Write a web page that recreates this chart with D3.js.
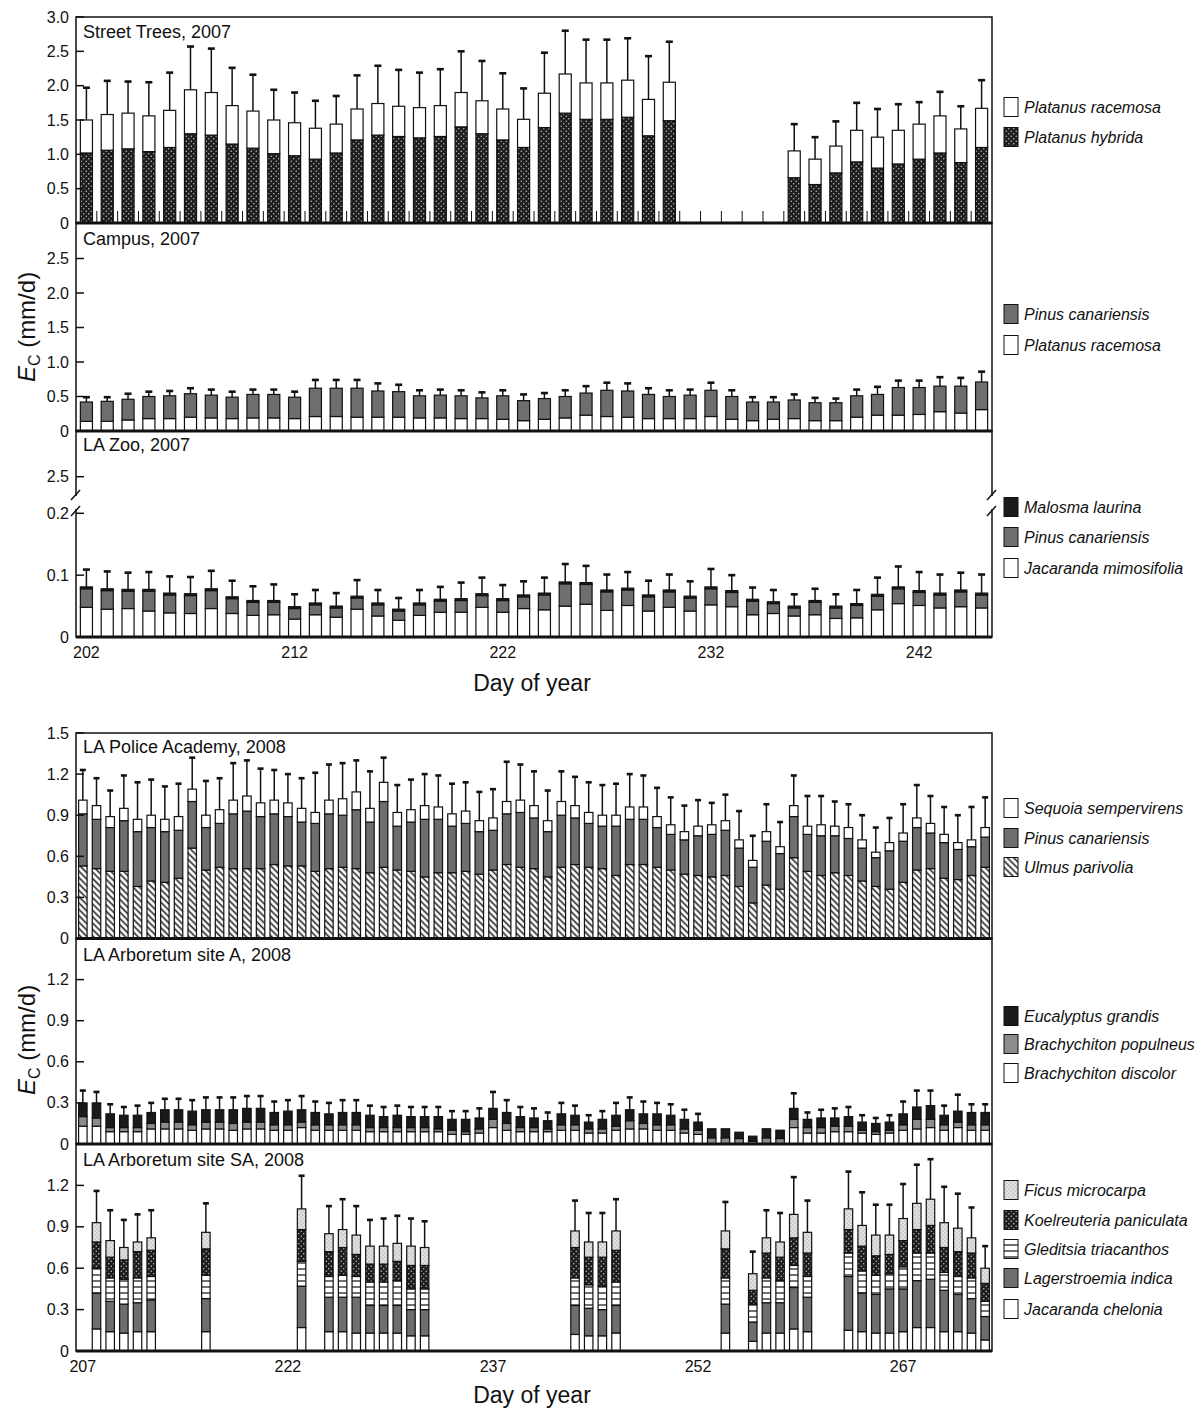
<!DOCTYPE html>
<html><head><meta charset="utf-8">
<script src="https://cdn.jsdelivr.net/npm/d3@7"></script>
<style>
body{margin:0;background:#fff}
svg{display:block}
text{font-family:"Liberation Sans",Arial,Helvetica,sans-serif;fill:#111}
</style>
</head><body>
<svg id="chart" width="1201" height="1411"></svg>
<script>
// ---------------- categories / ticks ----------------
const days2007 = d3.range(202, 246);
const days2008 = d3.range(207, 274);
const ticks2007 = [202, 212, 222, 232, 242];
const ticks2008 = [207, 222, 237, 252, 267];

// ---------------- Street Trees, 2007 ----------------
const stHybrida = [1.02,1.06,1.08,1.04,1.10,1.30,1.28,1.15,1.09,1.01, 0.98,0.93,1.02,1.21,1.28,1.26,1.24,1.26,1.40,1.30, 1.21,1.10,1.39,1.60,1.51,1.51,1.54,1.27,1.49, null,null,null,null,null, 0.66,0.56,0.73,0.89,0.80,0.86,0.93,1.02,0.88,1.10];
const stRacemosa = [0.48,0.52,0.52,0.52,0.54,0.64,0.62,0.56,0.54,0.49, 0.48,0.45,0.42,0.45,0.46,0.44,0.44,0.45,0.50,0.48, 0.45,0.41,0.50,0.57,0.53,0.53,0.54,0.53,0.56, null,null,null,null,null, 0.39,0.37,0.39,0.46,0.45,0.49,0.51,0.54,0.49,0.57];
const stSD = [0.47,0.49,0.46,0.49,0.55,0.63,0.64,0.55,0.53,0.44, 0.44,0.40,0.41,0.49,0.55,0.53,0.51,0.53,0.60,0.58, 0.52,0.45,0.59,0.63,0.63,0.63,0.61,0.63,0.59, null,null,null,null,null, 0.39,0.32,0.36,0.40,0.41,0.38,0.32,0.35,0.33,0.41];

// ---------------- Campus, 2007 ----------------
const caPlatanus = [.14,.14,.16,.18,.18,.20,.19,.18,.19,.19, .18,.21,.21,.20,.20,.20,.19,.19,.18,.18, .17,.15,.17,.19,.23,.21,.20,.18,.18,.18, .21,.17,.15,.17,.18,.15,.15,.20,.23,.23, .24,.28,.26,.31];
const caPinus = [.28,.29,.30,.32,.33,.34,.33,.31,.34,.34, .31,.41,.41,.42,.38,.37,.32,.33,.33,.30, .34,.29,.30,.31,.32,.38,.38,.35,.32,.34, .38,.33,.27,.25,.27,.26,.26,.31,.30,.40, .39,.37,.39,.40];
const caSD = [.07,.06,.08,.07,.07,.08,.08,.08,.07,.07, .08,.12,.12,.12,.11,.10,.08,.08,.08,.08, .08,.09,.08,.09,.10,.11,.11,.09,.09,.08, .11,.09,.07,.07,.08,.07,.06,.09,.11,.10, .10,.13,.12,.15];

// ---------------- LA Zoo, 2007 ----------------
const zoJacaranda = [.048,.045,.046,.042,.039,.038,.046,.038,.035,.036, .029,.036,.032,.045,.034,.027,.035,.040,.040,.048, .040,.046,.044,.050,.053,.043,.051,.042,.048,.042, .052,.049,.036,.038,.034,.036,.030,.031,.044,.054, .051,.047,.049,.047];
const zoPinus = [.030,.030,.028,.032,.029,.029,.029,.024,.021,.020, .017,.016,.015,.018,.018,.015,.017,.018,.019,.019, .019,.019,.024,.036,.032,.030,.025,.023,.025,.021, .026,.023,.022,.016,.013,.020,.017,.020,.022,.024, .021,.021,.024,.021];
const zoMalosma = [.003,.003,.003,.003,.003,.003,.003,.003,.003,.003, .003,.003,.003,.003,.003,.003,.003,.003,.003,.003, .003,.003,.003,.003,.003,.003,.003,.003,.003,.003, .003,.003,.003,.003,.003,.003,.003,.003,.003,.003, .003,.003,.003,.003];
const zoSD = [.028,.028,.027,.028,.027,.027,.029,.026,.023,.026, .020,.021,.021,.026,.021,.018,.021,.020,.026,.026, .022,.022,.025,.029,.027,.025,.026,.023,.025,.024, .029,.025,.019,.019,.019,.019,.019,.022,.027,.033, .030,.030,.028,.030];

// ---------------- LA Police Academy, 2008 ----------------
const poUlmus = [.53,.51,.49,.49,.38,.42,.41,.44,.66,.50, .52,.51,.51,.51,.54,.53,.53,.49,.51,.52, .51,.48,.52,.50,.49,.45,.48,.48,.49,.47, .50,.54,.52,.51,.45,.52,.54,.52,.51,.46, .54,.54,.52,.50,.47,.46,.45,.46,.38,.26, .39,.36,.59,.49,.46,.48,.46,.42,.38,.36, .41,.50,.51,.44,.43,.46,.52];
const poPinus = [.38,.36,.32,.37,.40,.39,.37,.35,.34,.31, .32,.40,.42,.38,.37,.36,.32,.35,.40,.38, .43,.37,.48,.32,.36,.42,.39,.34,.35,.31, .29,.37,.40,.37,.33,.38,.34,.32,.31,.36, .33,.33,.29,.26,.25,.29,.31,.33,.28,.26, .32,.26,.30,.27,.29,.27,.27,.24,.21,.28, .30,.31,.26,.26,.22,.21,.22];
const poSequoia = [.10,.10,.08,.09,.09,.09,.09,.10,.09,.09, .10,.10,.11,.10,.10,.10,.10,.08,.10,.12, .13,.10,.14,.10,.09,.10,.09,.09,.09,.08, .09,.09,.09,.09,.08,.10,.09,.08,.08,.08, .09,.09,.08,.07,.06,.07,.07,.07,.06,.05, .07,.05,.08,.06,.08,.07,.08,.06,.04,.06, .06,.07,.07,.06,.05,.05,.07];
const poSD = [.22,.20,.19,.24,.27,.26,.24,.24,.23,.25, .23,.27,.26,.25,.22,.21,.22,.29,.26,.26, .23,.27,.18,.20,.22,.23,.23,.22,.21,.21, .21,.29,.26,.25,.22,.22,.21,.22,.22,.23, .24,.23,.21,.20,.19,.19,.16,.19,.21,.18, .20,.18,.22,.22,.21,.18,.17,.18,.18,.18, .21,.24,.20,.20,.20,.24,.22];

// ---------------- LA Arboretum site A, 2008 ----------------
const aDiscolor = [.13,.13,.09,.09,.09,.11,.11,.11,.10,.11, .11,.10,.11,.11,.10,.10,.12,.10,.10,.10, .10,.09,.09,.09,.09,.09,.09,.07,.07,.08, .12,.10,.09,.09,.09,.10,.10,.08,.08,.10, .11,.11,.10,.10,.08,.07,0,0,0,0, 0,0,.12,.08,.08,.09,.09,.08,.07,.08, .10,.11,.12,.10,.12,.10,.10];
const aPopulneus = [.07,.06,.03,.03,.03,.04,.05,.05,.04,.05, .05,.05,.05,.05,.04,.04,.04,.04,.04,.04, .04,.03,.03,.03,.03,.03,.02,.03,.02,.03, .06,.05,.03,.03,.02,.04,.04,.03,.03,.03, .06,.04,.04,.04,.03,.03,.045,.045,.04,.02, .045,.04,.06,.04,.04,.04,.04,.02,.02,.02, .04,.07,.06,.04,.04,.04,.04];
const aEucalyptus = [.10,.11,.10,.09,.09,.08,.09,.09,.10,.09, .09,.10,.10,.10,.09,.10,.09,.09,.08,.09, .09,.09,.08,.09,.08,.08,.09,.08,.09,.08, .08,.08,.08,.07,.06,.08,.07,.05,.07,.08, .08,.07,.08,.07,.07,.06,.066,.066,.046,.037, .066,.061,.08,.06,.07,.06,.07,.06,.06,.06, .08,.09,.10,.07,.08,.09,.09];
const aSD = [.09,.08,.07,.06,.07,.07,.08,.08,.08,.09, .09,.09,.09,.09,.08,.08,.10,.08,.08,.09, .09,.07,.07,.07,.07,.07,.07,.06,.06,.07, .12,.09,.07,.07,.06,.08,.07,.05,.06,.09, .09,.09,.08,.08,.07,.06,null,null,null,null, null,null,.11,.05,.06,.07,.07,.05,.04,.05, .09,.12,.11,.07,.12,.06,.06];

// ---------------- LA Arboretum site SA, 2008 ----------------
const saDays = [208,209,210,211,212,216,223,225,226,227,228,229,230,231,232,243,244,245,246,254,256,257,258,259,260,263,264,265,266,267,268,269,270,271,272,273];
const saJacaranda = [.16,.14,.13,.14,.14,.14,.17,.14,.14,.13,.13,.13,.13,.11,.11,.12,.11,.11,.13,.13,.07,.13,.13,.16,.14,.15,.14,.13,.13,.14,.17,.17,.14,.14,.13,.08];
const saLagerstroemia = [.26,.22,.21,.21,.23,.24,.30,.25,.25,.26,.20,.20,.20,.19,.19,.21,.20,.19,.20,.21,.14,.22,.22,.30,.25,.39,.28,.28,.32,.31,.34,.35,.30,.27,.25,.17];
const saGleditsia = [.18,.17,.18,.18,.17,.17,.18,.15,.16,.15,.17,.17,.18,.15,.15,.20,.17,.17,.17,.19,.13,.18,.16,.16,.15,.17,.16,.14,.11,.16,.20,.19,.13,.13,.15,.11];
const saKoelreuteria = [.19,.15,.14,.19,.19,.19,.23,.18,.20,.16,.13,.13,.14,.17,.17,.22,.20,.21,.23,.21,.10,.18,.17,.20,.17,.17,.18,.14,.14,.19,.17,.20,.18,.18,.18,.13];
const saFicus = [.14,.12,.09,.07,.09,.12,.15,.13,.13,.14,.13,.13,.13,.14,.13,.12,.11,.11,.14,.13,.12,.11,.11,.17,.15,.15,.15,.15,.14,.16,.19,.19,.18,.17,.11,.11];
const saSD = [.23,.22,.20,.20,.20,.21,.24,.20,.22,.21,.19,.20,.20,.20,.19,.22,.21,.21,.23,.21,.16,.20,.21,.27,.23,.27,.24,.22,.22,.25,.28,.29,.26,.25,.22,.16];

// ================= drawing =================
const svg = d3.select("#chart");
svg.append("rect").attr("width",1201).attr("height",1411).attr("fill","#fff");
const X0 = 76, X1 = 992;
const INK = "#111";

const defs = svg.append("defs");
function dotPattern(id, bg, dot, size, r){
  const p = defs.append("pattern").attr("id",id).attr("patternUnits","userSpaceOnUse")
    .attr("width",size).attr("height",size);
  p.append("rect").attr("width",size).attr("height",size).attr("fill",bg);
  p.append("circle").attr("cx",size*0.25).attr("cy",size*0.25).attr("r",r).attr("fill",dot);
  p.append("circle").attr("cx",size*0.75).attr("cy",size*0.75).attr("r",r).attr("fill",dot);
}
dotPattern("darkDots","#1e1e1e","#cfcfcf",5,0.7);
dotPattern("lightDots","#e2e2e2","#8a8a8a",4,0.6);
{
  const h = defs.append("pattern").attr("id","hatch").attr("patternUnits","userSpaceOnUse")
    .attr("width",4.5).attr("height",4.5).attr("patternTransform","rotate(-45)");
  h.append("rect").attr("width",4.5).attr("height",4.5).attr("fill","#fff");
  h.append("line").attr("x1",2.25).attr("y1",0).attr("x2",2.25).attr("y2",4.5)
    .attr("stroke","#222").attr("stroke-width",1.6);
  const s = defs.append("pattern").attr("id","hstripes").attr("patternUnits","userSpaceOnUse")
    .attr("width",6).attr("height",6);
  s.append("rect").attr("width",6).attr("height",6).attr("fill","#fff");
  s.append("line").attr("x1",0).attr("y1",3).attr("x2",6).attr("y2",3)
    .attr("stroke","#222").attr("stroke-width",1.3);
}
const F = {
  white:"#ffffff", grey:"#6e6e6e", lightGrey:"#8c8c8c", black:"#1a1a1a",
  darkDots:"url(#darkDots)", lightDots:"url(#lightDots)", hatch:"url(#hatch)", hstripes:"url(#hstripes)"
};

const xTop = d3.scaleBand().domain(days2007).range([X0,X1]).paddingInner(0.42).paddingOuter(0.21);
const xBot = d3.scaleBand().domain(days2008).range([X0,X1]).paddingInner(0.38).paddingOuter(0.19);

const fmt = d => d === 0 ? "0" : d.toFixed(1);

function drawPanel(c){
  const g = svg.append("g");
  const x = c.x, y = c.y;
  const bw = x.bandwidth();
  // bars
  c.days.forEach((d,i) => {
    if (c.layers[0].v[i] == null) return;
    let cum = 0;
    const cx = x(d);
    c.layers.forEach(L => {
      const v = L.v[i];
      if (!v) return;
      g.append("rect").attr("x",cx).attr("y",y(cum+v)).attr("width",bw)
        .attr("height",y(cum)-y(cum+v)).attr("fill",L.fill)
        .attr("stroke",INK).attr("stroke-width",1.2);
      cum += v;
    });
    const sd = c.sd[i];
    if (sd != null) {
      const mx = cx + bw/2;
      g.append("line").attr("x1",mx).attr("x2",mx).attr("y1",y(cum)).attr("y2",y(cum+sd))
        .attr("stroke",INK).attr("stroke-width",1.5);
      g.append("line").attr("x1",mx-c.cap).attr("x2",mx+c.cap).attr("y1",y(cum+sd)).attr("y2",y(cum+sd))
        .attr("stroke",INK).attr("stroke-width",2.6);
    }
  });
  // boundary ticks
  if (c.boundaryTicks) {
    const step = x.step();
    for (let k=1;k<c.days.length;k++){
      const bx = X0 + k*step;
      g.append("line").attr("x1",bx).attr("x2",bx).attr("y1",c.bottom).attr("y2",c.bottom-12)
        .attr("stroke",INK).attr("stroke-width",1);
    }
  }
  // frame
  g.append("rect").attr("x",X0).attr("y",c.top).attr("width",X1-X0).attr("height",c.bottom-c.top)
    .attr("fill","none").attr("stroke",INK).attr("stroke-width",1.5);
  g.append("line").attr("x1",X0).attr("x2",X1).attr("y1",c.bottom).attr("y2",c.bottom)
    .attr("stroke",INK).attr("stroke-width",3);
  // y ticks
  c.yTicks.forEach(t => {
    const ty = y(t);
    g.append("line").attr("x1",X0).attr("x2",X0+8).attr("y1",ty).attr("y2",ty)
      .attr("stroke",INK).attr("stroke-width",1.5);
    g.append("text").attr("x",X0-7).attr("y",ty+5.5).attr("text-anchor","end")
      .attr("font-size",16).text(fmt(t));
  });
  // title
  g.append("text").attr("x",83).attr("y",c.titleY).attr("font-size",18).text(c.title);
  // legend
  c.legend.forEach((L,k) => {
    const ly = c.legendY[k];
    g.append("rect").attr("x",1004).attr("y",ly-9.5).attr("width",14).attr("height",19)
      .attr("fill",L.fill).attr("stroke",INK).attr("stroke-width",1);
    g.append("text").attr("x",1024).attr("y",ly+6).attr("font-size",16)
      .attr("font-style","italic").text(L.label);
  });
  return g;
}

// ---- top figure ----
drawPanel({
  x:xTop, y:d3.scaleLinear().domain([0,3]).range([223,17]), top:17, bottom:223,
  days:days2007, layers:[{v:stHybrida,fill:F.darkDots},{v:stRacemosa,fill:F.white}], sd:stSD, cap:3.5,
  boundaryTicks:true, yTicks:[0,0.5,1,1.5,2,2.5,3], title:"Street Trees, 2007", titleY:38,
  legend:[{label:"Platanus racemosa",fill:F.white},{label:"Platanus hybrida",fill:F.darkDots}], legendY:[107,137]
});
drawPanel({
  x:xTop, y:d3.scaleLinear().domain([0,3]).range([431,224]), top:223, bottom:431,
  days:days2007, layers:[{v:caPlatanus,fill:F.white},{v:caPinus,fill:F.grey}], sd:caSD, cap:3.5,
  yTicks:[0,0.5,1,1.5,2,2.5], title:"Campus, 2007", titleY:245,
  legend:[{label:"Pinus canariensis",fill:F.grey},{label:"Platanus racemosa",fill:F.white}], legendY:[314,345]
});
const zooY = d3.scaleLinear().domain([0,0.2]).range([637,513.3]);
const zooUpper = d3.scaleLinear().domain([2.5,3.0]).range([476.7,442]);
const zoo = drawPanel({
  x:xTop, y:zooY, top:431, bottom:637,
  days:days2007, layers:[{v:zoJacaranda,fill:F.white},{v:zoPinus,fill:F.grey},{v:zoMalosma,fill:F.black}], sd:zoSD, cap:3.5,
  yTicks:[0,0.1,0.2], title:"LA Zoo, 2007", titleY:451,
  legend:[{label:"Malosma laurina",fill:F.black},{label:"Pinus canariensis",fill:F.grey},{label:"Jacaranda mimosifolia",fill:F.white}], legendY:[507,537,568]
});
// upper segment tick of broken axis
zoo.append("line").attr("x1",X0).attr("x2",X0+8).attr("y1",zooUpper(2.5)).attr("y2",zooUpper(2.5))
  .attr("stroke",INK).attr("stroke-width",1.5);
zoo.append("text").attr("x",X0-7).attr("y",zooUpper(2.5)+5.5).attr("text-anchor","end")
  .attr("font-size",16).text("2.5");
// axis breaks
[X0, X1].forEach(bx => {
  zoo.append("rect").attr("x",bx-3).attr("y",496).attr("width",6).attr("height",13).attr("fill","#fff");
  zoo.append("line").attr("x1",bx-5).attr("y1",500).attr("x2",bx+4).attr("y2",490)
    .attr("stroke",INK).attr("stroke-width",1.5);
  zoo.append("line").attr("x1",bx-5).attr("y1",516).attr("x2",bx+4).attr("y2",506)
    .attr("stroke",INK).attr("stroke-width",1.5);
});
// x labels top
ticks2007.forEach(t => {
  svg.append("text").attr("x",xTop(t)+xTop.bandwidth()/2).attr("y",658).attr("text-anchor","middle")
    .attr("font-size",16).text(t);
});
svg.append("text").attr("x",532).attr("y",691).attr("text-anchor","middle").attr("font-size",23).text("Day of year");

// ---- bottom figure ----
drawPanel({
  x:xBot, y:d3.scaleLinear().domain([0,1.5]).range([938.5,733]), top:733, bottom:938.5,
  days:days2008, layers:[{v:poUlmus,fill:F.hatch},{v:poPinus,fill:F.grey},{v:poSequoia,fill:F.white}], sd:poSD, cap:3,
  yTicks:[0,0.3,0.6,0.9,1.2,1.5], title:"LA Police Academy, 2008", titleY:753,
  legend:[{label:"Sequoia sempervirens",fill:F.white},{label:"Pinus canariensis",fill:F.grey},{label:"Ulmus parivolia",fill:F.hatch}], legendY:[808,838,867]
});
drawPanel({
  x:xBot, y:d3.scaleLinear().domain([0,1.5]).range([1144,938.5]), top:938.5, bottom:1144,
  days:days2008, layers:[{v:aDiscolor,fill:F.white},{v:aPopulneus,fill:F.lightGrey},{v:aEucalyptus,fill:F.black}], sd:aSD, cap:3,
  yTicks:[0,0.3,0.6,0.9,1.2], title:"LA Arboretum site A, 2008", titleY:961,
  legend:[{label:"Eucalyptus grandis",fill:F.black},{label:"Brachychiton populneus",fill:F.lightGrey},{label:"Brachychiton discolor",fill:F.white}], legendY:[1016,1044,1073]
});
drawPanel({
  x:xBot, y:d3.scaleLinear().domain([0,1.5]).range([1351,1144]), top:1144, bottom:1351,
  days:saDays, layers:[{v:saJacaranda,fill:F.white},{v:saLagerstroemia,fill:F.grey},{v:saGleditsia,fill:F.hstripes},{v:saKoelreuteria,fill:F.darkDots},{v:saFicus,fill:F.lightDots}], sd:saSD, cap:3,
  yTicks:[0,0.3,0.6,0.9,1.2], title:"LA Arboretum site SA, 2008", titleY:1166,
  legend:[{label:"Ficus microcarpa",fill:F.lightDots},{label:"Koelreuteria paniculata",fill:F.darkDots},{label:"Gleditsia triacanthos",fill:F.hstripes},{label:"Lagerstroemia indica",fill:F.grey},{label:"Jacaranda chelonia",fill:F.white}], legendY:[1190,1220,1249,1278,1309]
});
ticks2008.forEach(t => {
  svg.append("text").attr("x",xBot(t)+xBot.bandwidth()/2).attr("y",1372).attr("text-anchor","middle")
    .attr("font-size",16).text(t);
});
svg.append("text").attr("x",532).attr("y",1403).attr("text-anchor","middle").attr("font-size",23).text("Day of year");

// y-axis titles
function ecLabel(cx, cy){
  const t = svg.append("text").attr("transform",`translate(${cx},${cy}) rotate(-90)`)
    .attr("text-anchor","middle").attr("font-size",24);
  t.append("tspan").attr("font-style","italic").text("E");
  t.append("tspan").attr("font-size",16).attr("dy",5).text("C");
  t.append("tspan").attr("dy",-5).text(" (mm/d)");
}
ecLabel(35, 327);
ecLabel(35, 1040);
</script>
</body></html>
